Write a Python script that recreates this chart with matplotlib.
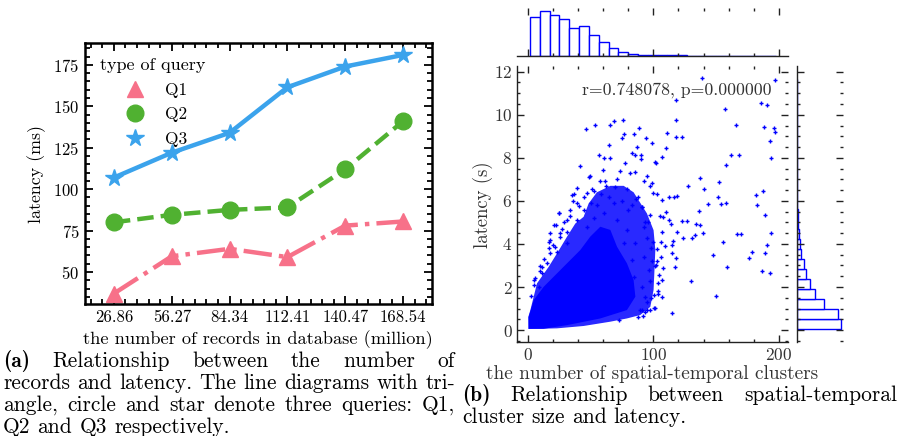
import numpy as np
import matplotlib
matplotlib.use('Agg')
import matplotlib.pyplot as plt
from matplotlib.ticker import MultipleLocator
from matplotlib.lines import Line2D

plt.rcParams['font.family'] = ['cmr10', 'DejaVu Serif']
plt.rcParams['mathtext.fontset'] = 'cm'
plt.rcParams['axes.formatter.use_mathtext'] = True
plt.rcParams['axes.unicode_minus'] = False

# ---------------- data: panel (a) ----------------
record_labels = ['26.86', '56.27', '84.34', '112.41', '140.47', '168.54']
q1_latency = [37, 59.5, 64, 59, 78, 80.5]
q2_latency = [80, 84.5, 87.5, 89, 112, 141]
q3_latency = [107, 122, 134, 161.5, 174, 181]
query_names = ['Q1', 'Q2', 'Q3']
legend_title = 'type of query'
query_colors = ['#f77189', '#50b131', '#3ba3ec']
query_markers = ['^', 'o', '*']
query_styles = ['-.', '--', '-']

# ---------------- data: panel (b) ----------------
# dense core of the cloud (solid) and its speckled fringe
core_inner_x = [0.8, 0.8, 4.8, 12.7, 20.7, 31.3, 41.9, 49.8, 57.8, 65.8, 71.1, 79.0, 84.3,
                85.7, 79.0, 57.8, 31.3, 12.7]
core_inner_y = [0.06, 0.62, 1.39, 2.01, 2.48, 3.10, 3.72, 4.34, 4.80, 4.65, 3.87, 3.10, 2.32,
                1.55, 0.93, 0.54, 0.23, 0.06]
core_outer_x = [0.5, 0.4, 2.1, 7.4, 16.7, 23.3, 31.3, 37.9, 44.5, 48.5, 55.1, 65.8, 76.4, 84.3,
                94.9, 100.2, 101.6, 100.8, 100.2, 97.6, 89.6, 79.0, 65.8, 44.5, 23.3]
core_outer_y = [0.05, 0.6, 0.93, 2.17, 2.94, 3.56, 4.34, 4.95, 5.26, 5.88, 6.40, 6.70, 6.70,
                6.40, 5.42, 4.64, 3.72, 2.63, 1.86, 1.08, 0.70, 0.54, 0.39, 0.19, 0.08]
sparse_x = [46.7, 53.8, 65.8, 68.9, 75.8, 88.8, 84.9, 75.3, 76.6, 94.4, 98.6, 64.4, 87.0, 83.0,
            85.7, 90.2, 90.2, 56.5, 60.5, 65.8, 77.7, 101.3, 41.9, 59.9, 49.8, 57.3, 61.8, 73.7,
            71.1, 81.7, 85.7, 95.1, 39.2, 36.6, 47.2, 52.5, 62.6, 69.8, 79.0, 92.3, 97.6, 99.7,
            139.0, 196.8, 118.0, 157.0, 185.6, 190.7, 118.0, 165.8, 188.0, 196.0, 196.8, 111.1,
            118.0, 122.8, 192.8, 110.0, 161.8, 168.4, 106.9, 101.8, 157.8, 194.1, 98.6, 137.1,
            152.0, 127.8, 140.3, 187.5, 102.6, 112.7, 116.4, 118.5, 107.1, 151.7, 181.6, 143.7,
            153.5, 157.8, 182.7,
            188.8, 136.6, 123.0, 126.5, 133.9, 137.1, 139.8, 166.8, 169.7, 194.1, 123.8, 131.0,
            132.9, 118.5, 155.7, 190.7, 178.7, 188.8, 147.7, 175.8, 158.9, 186.9, 192.8, 129.7,
            149.8, 114.8, 115.9, 114.6, 114.6, 118.0, 117.2, 112.7, 113.8,
            109.8, 107.4, 105.3, 106.9, 105.8, 109.5, 102.6, 106.3, 102.6, 101.6, 108.0, 104.8,
            106.9, 104.0, 106.9, 104.0, 100.5, 101.0, 97.3,
            24.6, 20.7, 22.8, 18.0, 16.7, 23.3, 11.4, 4.8, 8.7, 39.2, 44.5, 39.2, 55.1, 68.4,
            83.0, 90.9, 97.6, 92.3, 85.7, 92.3, 96.3, 90.9, 93.6, 89.6, 100.2, 26.0, 31.3, 31.3,
            47.2, 52.5, 60.5, 71.1, 79.0, 76.4, 83.0, 84.3, 81.7,
            90.7, 94.7, 91.5, 72.9, 17.2, 9.8, 15.1, 17.8, 21.8, 25.7, 31.0, 33.5, 28.5, 36.0,
            45.0, 50.0, 58.0, 65.0, 75.0, 80.0, 88.0, 93.0, 95.0, 98.0, 99.0, 97.0, 95.0,
            4.8, 11.4, 18.0, 24.6, 35.3, 48.5, 3.0, 6.0, 9.5, 13.0, 20.0, 27.0, 34.0, 41.0,
            51.0, 86.0, 91.0, 96.0, 99.5, 102.0, 103.5, 98.0, 93.5, 88.0]
sparse_y = [9.35, 9.54, 9.51, 9.69, 9.74, 9.40, 9.12, 8.93, 9.12, 8.90, 8.67, 8.58, 8.52, 8.21,
            8.14, 8.11, 7.96, 8.11, 8.00, 8.00, 7.74, 7.80, 7.62, 7.43, 7.15, 6.94, 6.92, 7.40,
            7.00, 7.31, 7.34, 7.15, 6.61, 6.30, 6.38, 6.45, 6.68, 6.65, 6.53, 6.92, 6.68, 6.38,
            11.69, 11.61, 10.67, 10.28, 10.56, 10.46, 9.78, 9.51, 9.44, 9.40, 9.21, 9.16,
            8.98, 8.99, 8.78, 8.45, 8.14, 8.11, 8.05, 7.77, 7.65, 7.99, 6.81, 7.08,
            6.87, 6.69, 6.53, 6.46, 6.33, 6.16, 6.19, 6.22, 6.02, 6.18, 6.26, 5.85,
            5.84, 5.89, 5.83,
            5.34, 5.54, 5.08, 5.08, 4.95, 4.89, 4.49, 4.44, 4.47, 4.49, 4.30, 4.26,
            4.41, 4.57, 4.09, 3.95, 3.61, 3.58, 3.51, 3.33, 2.94, 2.75, 2.64, 2.26,
            1.58, 0.80, 4.15, 3.95, 3.59, 3.37, 2.94, 5.12, 4.91,
            5.48, 5.23, 5.29, 4.54, 4.07, 3.92, 3.75, 3.40, 3.22, 2.99, 2.90, 2.56,
            2.32, 1.83, 1.55, 1.66, 1.63, 1.02, 0.93,
            5.42, 4.88, 4.88, 4.49, 3.79, 3.64, 2.63, 2.32, 2.01, 5.11, 5.57, 5.88, 5.80, 5.88,
            5.80, 5.73, 5.34, 4.80, 4.03, 3.41, 2.79, 2.01, 1.55, 0.93, 1.01, 4.33, 4.03, 4.57,
            4.80, 5.19, 5.42, 5.11, 4.65, 4.03, 3.26, 2.48, 1.86,
            0.93, 0.93, 0.65, 0.46, 4.07, 2.98, 3.10, 3.56, 3.87, 4.49, 5.11, 5.60, 5.00, 6.00,
            6.20, 5.90, 6.30, 6.20, 6.00, 5.60, 6.20, 5.00, 4.30, 3.80, 3.20, 2.30, 1.30,
            2.08, 2.94, 4.18, 5.42, 6.27, 7.12, 1.60, 2.40, 2.75, 3.30, 3.95, 4.70, 5.30, 5.75,
            6.55, 6.10, 5.70, 5.00, 4.10, 3.00, 2.20, 1.50, 0.85, 0.62]
corr_text = 'r=0.748078, p=0.000000'

# marginal histograms (25 bins each; heights read relative to the picture)
cluster_bin_start = 1.8
cluster_bin_width = 7.82
cluster_counts = [117, 133, 123, 109, 83, 88, 63, 41, 23, 11, 6, 3, 2, 1.2, 1, 0.7, 0.5, 0.5,
                  0.4, 0.3, 0.3, 0.3, 0.3, 0.3, 0.3]
latency_bin_start = 0.05
latency_bin_width = 0.464
latency_counts = [133, 125, 83, 56, 41, 28, 21, 14, 9, 6, 4, 3, 2, 1.5, 1.2, 1, 0.9, 0.8,
                  0.6, 0.5, 0.5, 0.4, 0.4, 0.3, 0.3]

caption_a = ['Relationship between the number of',
             'records and latency. The line diagrams with tri-',
             'angle, circle and star denote three queries: Q1,',
             'Q2 and Q3 respectively.']
caption_b = ['Relationship between spatial-temporal',
             'cluster size and latency.']

# ---------------- layout ----------------
W, H = 910, 436
fig = plt.figure(figsize=(W / 100, H / 100), dpi=100)


def rect(x0, y0, x1, y1):
    return [x0 / W, 1 - y1 / H, (x1 - x0) / W, (y1 - y0) / H]


ax = fig.add_axes(rect(85, 43, 432, 304))
ax_s = fig.add_axes(rect(517.3, 65.7, 787.7, 341.7))
ax_t = fig.add_axes(rect(517.3, 8, 787.7, 55.7), sharex=ax_s)
ax_r = fig.add_axes(rect(796.7, 65.7, 843, 341.7), sharey=ax_s)

# ---------------- panel (a) ----------------
xpos = np.arange(len(record_labels))
for vals, name, col, mk, ls in zip([q1_latency, q2_latency, q3_latency], query_names,
                                   query_colors, query_markers, query_styles):
    ax.plot(xpos, vals, color=col, marker=mk, linestyle=ls, lw=3.2,
            markersize=12 if mk != '*' else 13, label=name)
ax.set_xlim(-0.5, 5.5)
ax.set_ylim(30.7, 188.2)
ax.set_xticks(xpos)
ax.set_xticklabels(record_labels)
ax.xaxis.set_minor_locator(MultipleLocator(0.2))
ax.yaxis.set_major_locator(MultipleLocator(25))
ax.yaxis.set_minor_locator(MultipleLocator(5))
ax.tick_params(which='both', direction='in', top=True, right=True, width=1.3, labelsize=12,
               pad=4, colors='black')
ax.tick_params(which='major', length=6)
ax.tick_params(which='minor', length=3.5)
for sp in ax.spines.values():
    sp.set_linewidth(1.8)
ax.set_xlabel('the number of records in database (million)', fontsize=12.5)
ax.set_ylabel('latency (ms)', fontsize=12.5)
ax.xaxis.label.set_va('center')
ax.yaxis.label.set_va('center')
ax.xaxis.set_label_coords(0.4986, (304 - 340) / 261)
ax.yaxis.set_label_coords((36.5 - 85) / 347, 0.5)

handles = [Line2D([], [], color=c, marker=m, linestyle='', markersize=12 if m != '*' else 13)
           for c, m in zip(query_colors, query_markers)]
leg = ax.legend(handles, query_names, title=legend_title, loc='upper left',
                bbox_to_anchor=(0.043, 0.943), frameon=False, fontsize=12.5, title_fontsize=13,
                borderpad=0, borderaxespad=0, labelspacing=0.53, handletextpad=0.75,
                handlelength=2.0)

# ---------------- panel (b) ----------------
blue = '#0000ff'
ink = '#333333'
ax_s.fill(core_outer_x, core_outer_y, color=blue, alpha=0.84, lw=0)
ax_s.fill(core_inner_x, core_inner_y, color=blue, lw=0)
ax_s.scatter(sparse_x, sparse_y, marker='+', s=10, c=blue, linewidths=1.0)
ax_s.set_xlim(-8.3, 207)
ax_s.set_ylim(-0.54, 12.28)
ax_s.xaxis.set_major_locator(MultipleLocator(100))
ax_s.xaxis.set_minor_locator(MultipleLocator(20))
ax_s.yaxis.set_major_locator(MultipleLocator(2))
ax_s.yaxis.set_minor_locator(MultipleLocator(0.5))
ax_s.tick_params(which='both', direction='in', top=True, right=True, width=1.0, color='#222222',
                 labelcolor=ink, labelsize=12.5, pad=3.5)
ax_s.tick_params(which='major', length=4.8)
ax_s.tick_params(which='minor', length=2.4)
for k in ['top', 'right']:
    ax_s.spines[k].set_visible(False)
for k in ['left', 'bottom']:
    ax_s.spines[k].set_linewidth(1.0)
    ax_s.spines[k].set_color('#222222')
ax_s.set_xlabel('the number of spatial-temporal clusters', fontsize=13.5, color=ink)
ax_s.set_ylabel('latency (s)', fontsize=13.5, color=ink)
ax_s.xaxis.label.set_va('center')
ax_s.yaxis.label.set_va('center')
ax_s.xaxis.set_label_coords(0.5, (341.7 - 373.5) / 276)
ax_s.yaxis.set_label_coords((483.3 - 517.3) / 270.4, 0.495)
rtext = ax_s.text(43.0, 11.12, corr_text, ha='left', va='center', fontsize=12.7, color=ink)

# top marginal histogram
top_left = cluster_bin_start + np.arange(len(cluster_counts)) * cluster_bin_width
ax_t.bar(top_left, cluster_counts, width=cluster_bin_width, align='edge', facecolor='white',
         edgecolor=blue, linewidth=1.0)
ax_t.set_ylim(0, 143)
for k in ['top', 'left', 'right']:
    ax_t.spines[k].set_visible(False)
ax_t.spines['bottom'].set_linewidth(1.0)
ax_t.spines['bottom'].set_color('#222222')
ax_t.tick_params(axis='x', which='both', direction='in', top=True, bottom=True,
                 labelbottom=False, labeltop=False, width=1.0, color='#222222')
ax_t.tick_params(axis='x', which='major', length=4.8)
ax_t.tick_params(axis='x', which='minor', length=2.4)
ax_t.tick_params(axis='y', which='both', left=False, right=False, labelleft=False)

# right marginal histogram
right_bottom = latency_bin_start + np.arange(len(latency_counts)) * latency_bin_width
ax_r.barh(right_bottom, latency_counts, height=latency_bin_width, align='edge',
          facecolor='white', edgecolor=blue, linewidth=1.0)
ax_r.set_xlim(0, 139)
for k in ['top', 'bottom', 'right']:
    ax_r.spines[k].set_visible(False)
ax_r.spines['left'].set_linewidth(1.0)
ax_r.spines['left'].set_color('#222222')
ax_r.tick_params(axis='y', which='both', direction='in', left=True, right=True,
                 labelleft=False, labelright=False, width=1.0, color='#222222')
ax_r.tick_params(axis='y', which='major', length=4.8)
ax_r.tick_params(axis='y', which='minor', length=2.4)
ax_r.tick_params(axis='x', which='both', bottom=False, top=False, labelbottom=False)

# ---------------- fit text sizes to the reference widths ----------------
fig.canvas.draw()
rend = fig.canvas.get_renderer()


def fit(t, target, vertical=False):
    bb = t.get_window_extent(rend)
    cur = bb.height if vertical else bb.width
    if cur > 0:
        t.set_fontsize(t.get_fontsize() * target / cur)


fit(ax.xaxis.label, 350)
fit(ax.yaxis.label, 98, vertical=True)
fit(ax_s.xaxis.label, 331)
fit(ax_s.yaxis.label, 86.6, vertical=True)
fit(rtext, 188)

# ---------------- captions ----------------
probe = fig.text(0, 0, caption_a[1], fontsize=10)
cap_size = 10 * 452 / probe.get_window_extent(rend).width
probe.remove()


def put_line(words, fams, x0, x1, ybase, justify):
    texts = [fig.text(0, 0, w, fontsize=cap_size, family=f, va='baseline', ha='left',
                      color='black') for w, f in zip(words, fams)]
    widths = [t.get_window_extent(rend).width for t in texts]
    if justify and len(texts) > 1:
        gap = (x1 - x0 - sum(widths)) / (len(texts) - 1)
    else:
        a = fig.text(0, 0, 'a a', fontsize=cap_size)
        b = fig.text(0, 0, 'aa', fontsize=cap_size)
        gap = a.get_window_extent(rend).width - b.get_window_extent(rend).width
        a.remove()
        b.remove()
    x = x0
    for t, w in zip(texts, widths):
        t.set_position((x / W, 1 - ybase / H))
        x += w + gap


def caption(label, lines, x0, x1, y0, dy):
    for i, line in enumerate(lines):
        words = line.split(' ')
        fams = ['cmr10'] * len(words)
        if i == 0:
            words = [label] + words
            fams = ['cmb10'] + fams
        put_line(words, fams, x0, x1, y0 + i * dy, justify=(i < len(lines) - 1))


caption('(a)', caption_a, 3, 455, 366.5, 22.2)
caption('(b)', caption_b, 462, 897, 400.5, 22.2)

fig.savefig('out.png', dpi=100)
